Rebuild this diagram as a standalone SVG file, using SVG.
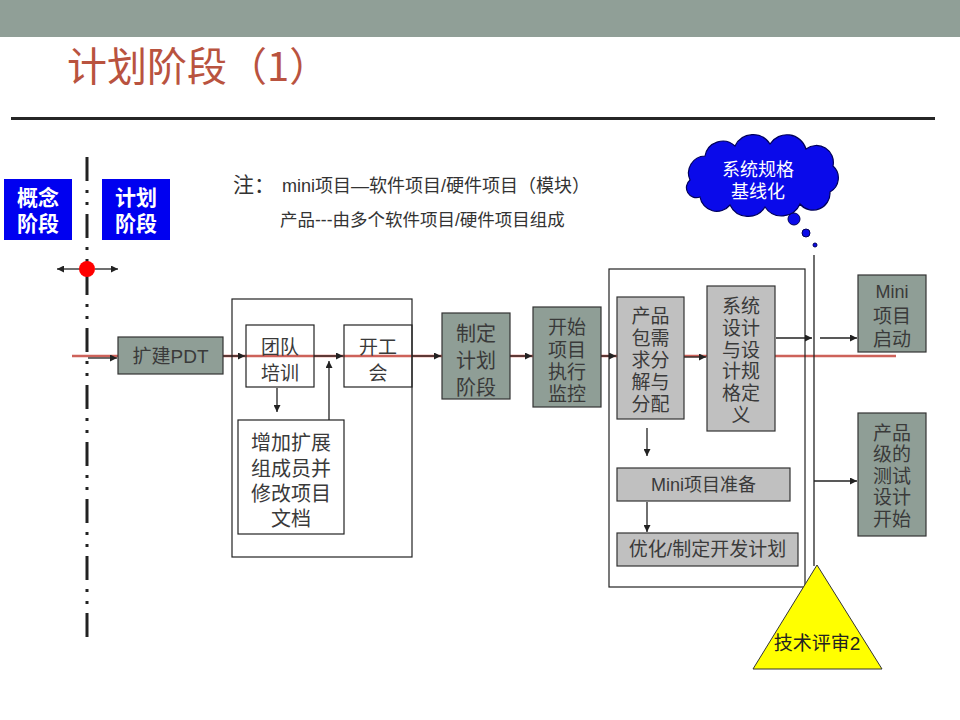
<svg xmlns="http://www.w3.org/2000/svg" width="960" height="720" viewBox="0 0 960 720">
<defs>
<marker id="ah" viewBox="0 0 10 10" refX="10" refY="5" markerWidth="9" markerHeight="7" markerUnits="userSpaceOnUse" orient="auto">
<path d="M0,0 L10,5 L0,10 z" fill="#222"/>
</marker>
<style>
text{font-family:"Liberation Sans","Noto Sans CJK SC",sans-serif;}
.t{font-size:19px;fill:#3a3a3a;text-anchor:middle;}
.t20{font-size:20px;fill:#3a3a3a;text-anchor:middle;}
.gg{fill:#8F9E96;stroke:#333;stroke-width:1.2;}
.lg{fill:#C0C0C0;stroke:#333;stroke-width:1.2;}
.wb{fill:none;stroke:#222;stroke-width:1.2;}
.blue{fill:#0000F0;}
.bt{font-size:21px;font-weight:bold;fill:#fff;text-anchor:middle;}
.ar{stroke:#222;stroke-width:1.3;fill:none;marker-end:url(#ah);}
.ln{stroke:#222;stroke-width:1.3;fill:none;}
</style>
</defs>
<rect width="960" height="720" fill="#fff"/>
<rect x="0" y="0" width="960" height="37" fill="#909F97"/>
<text x="67" y="81" style="font-size:40px;fill:#B9533F;font-family:'Noto Sans CJK SC','Liberation Sans',sans-serif;">计划阶段（1）</text>
<rect x="11" y="117" width="924" height="3" fill="#262626"/>

<g id="phase-concept"><rect class="blue" x="4" y="179" width="68" height="61"/><text class="bt" x="38" y="205">概念</text><text class="bt" x="38" y="231">阶段</text></g>
<g id="phase-plan"><rect class="blue" x="102" y="179" width="68" height="61"/><text class="bt" x="136" y="205">计划</text><text class="bt" x="136" y="231">阶段</text></g>

<g id="note">
<text x="233" y="192" style="font-size:21px;fill:#333;font-family:'Noto Sans CJK SC',sans-serif;">注：</text>
<text x="282" y="192" style="font-size:18px;fill:#333;">mini项目—软件项目/硬件项目（模块）</text>
<text x="280" y="226" style="font-size:17.5px;fill:#333;">产品---由多个软件项目/硬件项目组成</text>
</g>

<g id="cloud">
<path d="M690,180 A17,17 0 0 1 705,156 A18,18 0 0 1 735,146 A20,20 0 0 1 770,144 A20,20 0 0 1 806,149 A17,17 0 0 1 833,166 A16,16 0 0 1 830,192 A17,17 0 0 1 800,204 A20,20 0 0 1 765,207 A20,20 0 0 1 730,205 A17,17 0 0 1 700,197 A10,10 0 0 1 690,180 Z" fill="#0A0AEA" stroke="#00005A" stroke-width="1.2"/>
<text x="758" y="176" style="font-size:18px;fill:#fff;text-anchor:middle;">系统规格</text>
<text x="758" y="198" style="font-size:18px;fill:#fff;text-anchor:middle;">基线化</text>
<circle cx="794" cy="219" r="6" fill="#0A0AEA" stroke="#00005A"/>
<circle cx="806" cy="233" r="4" fill="#0A0AEA" stroke="#00005A"/>
<circle cx="815" cy="245" r="2" fill="#0A0AEA" stroke="#00005A"/>
</g>

<g id="connectors">
<line x1="87" y1="157" x2="87" y2="637" stroke="#222" stroke-width="3" stroke-dasharray="24 9 3 9 3 9"/>
<line x1="72" y1="356" x2="896" y2="356" stroke="#CD625A" stroke-width="2.5"/>
<line class="ar" x1="80" y1="269" x2="57" y2="269"/>
<line class="ar" x1="95" y1="269" x2="118" y2="269"/>
<line class="ar" x1="88" y1="358" x2="117" y2="358"/>
<line class="ar" x1="223" y1="356" x2="245" y2="356"/>
<line class="ar" x1="314" y1="356" x2="343" y2="356"/>
<line class="ar" x1="277" y1="388" x2="277" y2="412"/>
<line class="ar" x1="329" y1="420" x2="329" y2="361"/>
<line class="ar" x1="412" y1="356" x2="441" y2="356"/>
<line class="ar" x1="510" y1="356" x2="532" y2="356"/>
<line class="ar" x1="601" y1="356" x2="616" y2="356"/>
<line class="ar" x1="684" y1="357" x2="706" y2="357"/>
<line class="ar" x1="776" y1="338" x2="812" y2="338"/>
<line class="ar" x1="820" y1="338" x2="857" y2="338"/>
<line class="ln" x1="814" y1="255" x2="814" y2="566"/>
<line class="ar" x1="814" y1="481" x2="857" y2="481"/>
<line class="ar" x1="647" y1="428" x2="647" y2="456"/>
<line class="ar" x1="647" y1="502" x2="647" y2="532"/>
</g>
<circle cx="87" cy="269" r="8" fill="#FF0000"/>

<g id="group1"><rect class="wb" x="232" y="299" width="180" height="258"/></g>
<g id="group2"><rect class="wb" x="609" y="269" width="196" height="318"/></g>

<g id="n-pdt"><rect class="gg" x="118" y="337" width="105" height="37"/><text class="t" x="170.5" y="363">扩建PDT</text></g>
<g id="n-train"><rect class="wb" x="246" y="325" width="68" height="62"/><text class="t" x="280" y="354">团队</text><text class="t" x="280" y="380">培训</text></g>
<g id="n-kickoff"><rect class="wb" x="344" y="325" width="68" height="62"/><text class="t" x="378" y="354">开工</text><text class="t" x="378" y="380">会</text></g>
<g id="n-extend"><rect class="wb" x="238" y="420" width="106" height="114"/><text class="t20" x="291" y="450">增加扩展</text><text class="t20" x="291" y="476">组成员并</text><text class="t20" x="291" y="501">修改项目</text><text class="t20" x="291" y="526">文档</text></g>
<g id="n-plan"><rect class="gg" x="442" y="313" width="68" height="86"/><text class="t20" x="476" y="341">制定</text><text class="t20" x="476" y="368">计划</text><text class="t20" x="476" y="395">阶段</text></g>
<g id="n-monitor"><rect class="gg" x="533" y="307" width="68" height="100"/><text class="t" x="567" y="334">开始</text><text class="t" x="567" y="357">项目</text><text class="t" x="567" y="379">执行</text><text class="t" x="567" y="401">监控</text></g>
<g id="n-req"><rect class="lg" x="617" y="297" width="67" height="122"/><text class="t" x="650.5" y="323">产品</text><text class="t" x="650.5" y="345">包需</text><text class="t" x="650.5" y="367">求分</text><text class="t" x="650.5" y="389">解与</text><text class="t" x="650.5" y="411">分配</text></g>
<g id="n-sysdesign"><rect class="lg" x="707" y="286" width="68" height="145"/><text class="t" x="741" y="313">系统</text><text class="t" x="741" y="335">设计</text><text class="t" x="741" y="357">与设</text><text class="t" x="741" y="378">计规</text><text class="t" x="741" y="400">格定</text><text class="t" x="741" y="422">义</text></g>
<g id="n-miniprep"><rect class="lg" x="617" y="468" width="173" height="33"/><text class="t" x="703.5" y="491" style="font-size:18px">Mini项目准备</text></g>
<g id="n-devplan"><rect class="lg" x="617" y="533" width="181" height="33"/><text class="t" x="707.5" y="556">优化/制定开发计划</text></g>
<g id="n-ministart"><rect class="gg" x="858" y="275" width="68" height="77"/><text class="t" x="892" y="298" style="font-size:18px">Mini</text><text class="t" x="892" y="323">项目</text><text class="t" x="892" y="346">启动</text></g>
<g id="n-test"><rect class="gg" x="858" y="413" width="68" height="123"/><text class="t" x="892" y="440">产品</text><text class="t" x="892" y="461">级的</text><text class="t" x="892" y="483">测试</text><text class="t" x="892" y="504">设计</text><text class="t" x="892" y="526">开始</text></g>
<g id="n-review"><polygon points="817,565 753,669 882,669" fill="#FFFF00" stroke="#333" stroke-width="1"/><text class="t" x="817" y="650" style="fill:#222">技术评审2</text></g>
</svg>
